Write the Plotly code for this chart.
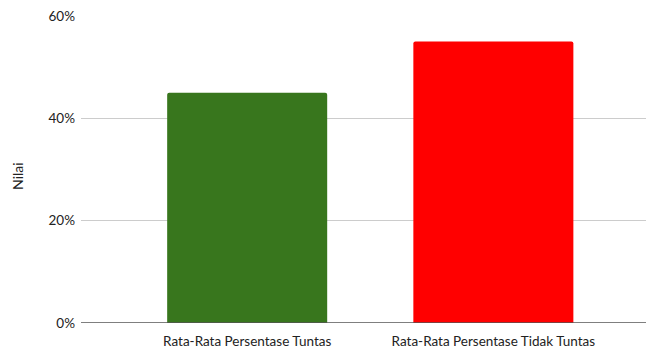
import plotly.graph_objects as go

categories = ["Rata-Rata Persentase Tuntas", "Rata-Rata Persentase Tidak Tuntas"]
values = [0.45, 0.55]
colors = ["#38761d", "#ff0000"]
y_ticks = [0, 0.2, 0.4, 0.6]
y_tick_labels = ["0%", "20%", "40%", "60%"]

fig = go.Figure()
fig.add_trace(go.Bar(
    x=[0, 1], y=values, marker=dict(color=colors, line=dict(width=0), cornerradius=2),
    width=0.65, showlegend=False,
))

fig.update_layout(
    width=646, height=347,
    margin=dict(l=81, r=0, t=16, b=24),
    paper_bgcolor="white", plot_bgcolor="white",
    font=dict(family="Lato", size=13, color="#222222"),
    xaxis=dict(
        range=[-0.675, 1.62], tickmode="array", tickvals=[0, 1], ticktext=categories,
        showgrid=False, zeroline=False, showline=False, ticks="", fixedrange=True,
        tickfont=dict(size=13.5, color="#222222"), ticklabelstandoff=8, automargin=False,
    ),
    yaxis=dict(
        range=[0, 0.6], tickmode="array", tickvals=y_ticks, ticktext=y_tick_labels,
        showgrid=True, gridcolor="#cccccc", gridwidth=1,
        zeroline=False, showline=False, ticks="", ticklabelstandoff=5,
        tickfont=dict(size=13.5, color="#222222"), automargin=False,
    ),
    shapes=[dict(type="line", xref="paper", yref="y", x0=0, x1=1, y0=0, y1=0,
                 line=dict(color="#555555", width=1.5))],
    annotations=[dict(text="Nilai", xref="paper", yref="paper", x=0, y=0.479,
                      xanchor="center", yanchor="middle",
                      xshift=-63, textangle=-90, showarrow=False,
                      font=dict(size=14, color="#222222"))],
)

fig.write_html("out.html")
